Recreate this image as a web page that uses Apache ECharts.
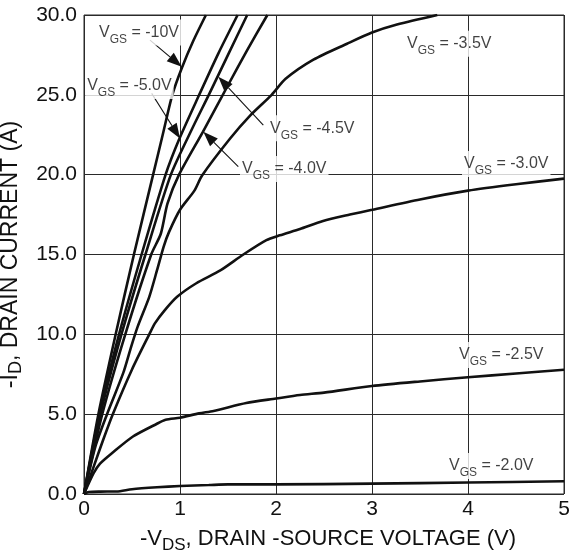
<!DOCTYPE html>
<html>
<head>
<meta charset="utf-8">
<script src="https://cdn.jsdelivr.net/npm/echarts@6/dist/echarts.min.js"></script>
<style>
  html, body { margin: 0; padding: 0; background: #fff; }
  #chart { width: 571px; height: 550px; }
</style>
</head>
<body>
<div id="chart"></div>
<script>
// Axis ticks
const vdsTicks = [0, 1, 2, 3, 4, 5];
const idTicks = [0, 5, 10, 15, 20, 25, 30];

// Output characteristics: [-VDS (V), -ID (A)] for each gate-source voltage
const vgsMinus10 = [[0,0],[0.15,5],[0.33,10],[0.52,15],[0.72,20],[0.82,22.5],[0.92,25],[1.02,26.7],[1.14,28.4],[1.27,30]];
const vgsMinus5 = [[0,0],[0.16,5],[0.365,10],[0.6,15],[0.85,20],[0.99,22.2],[1.2,25],[1.4,27.6],[1.6,30]];
const vgsMinus45 = [[0,0],[0.17,5],[0.39,10],[0.64,15],[0.905,20],[1.12,22.8],[1.3,25],[1.5,27.5],[1.7,30]];
const vgsMinus4 = [[0,0],[0.19,5],[0.43,10],[0.7,15],[0.8,16.3],[0.87,18.2],[0.99,20],[1.24,22.7],[1.5,25.6],[1.7,27.8],[1.91,30]];
const vgsMinus35 = [[0,0],[0.12,3],[0.24,5],[0.41,7.6],[0.49,9.2],[0.56,10.5],[0.68,12.35],[0.76,14],[0.83,15.5],[0.885,16.4],[1.0,17.8],[1.15,19],[1.23,19.95],[1.52,22.25],[1.73,23.7],[1.955,25],[2.1,26.0],[2.39,27.2],[2.74,28.2],[3.0,28.9],[3.26,29.4],[3.68,30]];
const vgsMinus3 = [[0,0],[0.1,1.7],[0.2,3.4],[0.3,5],[0.5,7.8],[0.68,10],[0.74,10.7],[0.84,11.5],[0.97,12.35],[1.17,13.2],[1.42,14],[1.66,15],[1.9,15.9],[2.04,16.2],[2.25,16.6],[2.49,17.1],[2.77,17.5],[3.0,17.8],[3.5,18.45],[4.0,19.0],[4.5,19.4],[5.0,19.75]];
const vgsMinus25 = [[0,0],[0.1,1.3],[0.167,1.9],[0.3,2.6],[0.51,3.6],[0.76,4.4],[0.85,4.65],[1.0,4.78],[1.2,5.05],[1.35,5.2],[1.69,5.7],[2.0,5.98],[2.25,6.2],[2.5,6.35],[3.0,6.76],[3.5,7.05],[4.0,7.31],[4.5,7.55],[5.0,7.78]];
const vgsMinus2 = [[0,0],[0.05,0.12],[0.17,0.15],[0.34,0.16],[0.5,0.3],[0.76,0.42],[1.0,0.5],[1.3,0.56],[1.5,0.6],[2.0,0.6],[3.0,0.65],[4.0,0.72],[5.0,0.8]];

// Curve callouts: gate voltage text and where it sits (data units)
const calloutText = ['-10V', '-5.0V', '-4.5V', '-4.0V', '-3.5V', '-3.0V', '-2.5V', '-2.0V'];
const calloutX = [0.135, 0.012, 1.917, 1.625, 3.344, 3.9375, 3.885, 3.781];
const calloutY = [28.9, 25.55, 22.9, 20.35, 28.2, 20.67, 8.705, 1.754];

// Leader arrows: tail and tip in data units
const arrowTailX = [0.6875, 0.705, 1.868, 1.607];
const arrowTailY = [28.43, 25.09, 23.1, 20.5];
const arrowTipX = [1.018, 1.0, 1.399, 1.243];
const arrowTipY = [26.76, 22.27, 26.13, 22.69];

const FONT = '"Liberation Sans", Arial, Helvetica, sans-serif';
const INK = '#111';
const GRID = '#2a2a2a';

const curves = [vgsMinus10, vgsMinus5, vgsMinus45, vgsMinus4, vgsMinus35, vgsMinus3, vgsMinus25, vgsMinus2];

const curveSeries = curves.map(function (pts) {
  return {
    type: 'line',
    data: pts,
    showSymbol: false,
    smooth: 0.25,
    clip: true,
    lineStyle: { color: INK, width: 2.6 },
    z: 2,
    silent: true
  };
});

const labelRich = {
  m: { fontFamily: FONT, fontSize: 16, color: INK, lineHeight: 26 },
  s: { fontFamily: FONT, fontSize: 12, color: INK, lineHeight: 14, verticalAlign: 'bottom' }
};

const calloutSeries = {
  type: 'scatter',
  symbolSize: 0,
  silent: true,
  z: 4,
  data: calloutText.map(function (t, i) {
    return { value: [calloutX[i], calloutY[i]], name: t };
  }),
  label: {
    show: true,
    position: 'right',
    distance: 0,
    align: 'left',
    verticalAlign: 'middle',
    backgroundColor: '#fff',
    padding: [0, 2],
    formatter: function (p) { return '{m|V}{s|GS}{m| = ' + p.name + '}'; },
    rich: labelRich
  }
};

// Leader line with a filled triangular head at the tip
const HEAD_LEN = 15, HEAD_HALF = 5.5;
const arrowSeries = {
  type: 'custom',
  silent: true,
  z: 3,
  clip: false,
  data: arrowTailX.map(function (x, i) {
    return [x, arrowTailY[i], arrowTipX[i], arrowTipY[i]];
  }),
  renderItem: function (params, api) {
    const a = api.coord([api.value(0), api.value(1)]);
    const b = api.coord([api.value(2), api.value(3)]);
    const dx = b[0] - a[0], dy = b[1] - a[1];
    const len = Math.sqrt(dx * dx + dy * dy);
    const ux = dx / len, uy = dy / len;
    const bx = b[0] - ux * HEAD_LEN, by = b[1] - uy * HEAD_LEN;
    return {
      type: 'group',
      children: [
        {
          type: 'line',
          shape: { x1: a[0], y1: a[1], x2: bx, y2: by },
          style: { stroke: INK, lineWidth: 1.1 }
        },
        {
          type: 'polygon',
          shape: {
            points: [
              [b[0], b[1]],
              [bx - uy * HEAD_HALF, by + ux * HEAD_HALF],
              [bx + uy * HEAD_HALF, by - ux * HEAD_HALF]
            ]
          },
          style: { fill: INK }
        }
      ]
    };
  }
};

const xNameRich = {
  m: { fontFamily: FONT, fontSize: 22, color: INK, lineHeight: 30 },
  s: { fontFamily: FONT, fontSize: 17, color: INK, lineHeight: 18, verticalAlign: 'bottom' }
};
const yNameRich = {
  m: { fontFamily: FONT, fontSize: 23, color: INK, lineHeight: 30 },
  s: { fontFamily: FONT, fontSize: 18, color: INK, lineHeight: 18, verticalAlign: 'bottom' }
};

const chart = echarts.init(document.getElementById('chart'), null, { renderer: 'canvas' });
chart.setOption({
  animation: false,
  backgroundColor: '#fff',
  grid: {
    left: 84, top: 15, right: 7, bottom: 56,
    outerBoundsMode: 'none',
    containLabel: false,
    show: true, borderColor: GRID, borderWidth: 1, backgroundColor: 'transparent'
  },
  xAxis: {
    type: 'value',
    min: vdsTicks[0],
    max: vdsTicks[vdsTicks.length - 1],
    interval: 1,
    name: '{m|-V}{s|DS}{m|, DRAIN -SOURCE VOLTAGE (V)}',
    nameLocation: 'middle',
    nameGap: 30,
    nameTextStyle: { rich: xNameRich, padding: [0, 0, 0, 8] },
    axisLine: { show: false },
    axisTick: { show: false },
    axisLabel: { fontFamily: FONT, fontSize: 21, color: INK, margin: 5 },
    splitLine: { show: true, lineStyle: { color: GRID, width: 1 } }
  },
  yAxis: {
    type: 'value',
    min: idTicks[0],
    max: idTicks[idTicks.length - 1],
    interval: 5,
    name: '{m|-I}{s|D}{m|, DRAIN CURRENT (A)}',
    nameLocation: 'middle',
    nameGap: 52,
    nameRotate: 90,
    nameTextStyle: { rich: yNameRich },
    axisLine: { show: false },
    axisTick: { show: false },
    axisLabel: {
      fontFamily: FONT, fontSize: 21, color: INK, margin: 7,
      formatter: function (v) { return v.toFixed(1); }
    },
    splitLine: { show: true, lineStyle: { color: GRID, width: 1 } }
  },
  series: curveSeries.concat([arrowSeries, calloutSeries])
});
</script>
</body>
</html>
